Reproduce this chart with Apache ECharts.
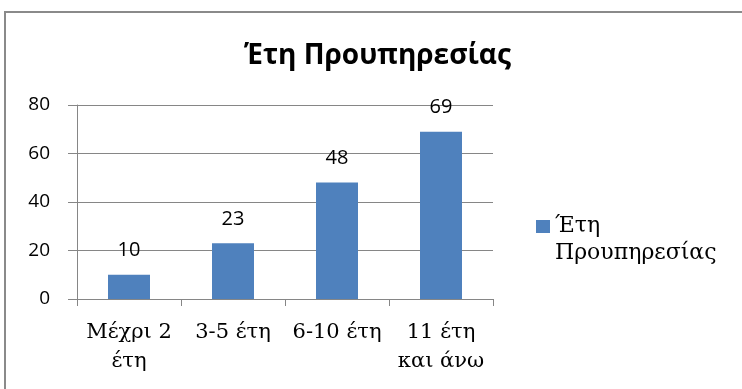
<!DOCTYPE html>
<html>
<head>
<meta charset="utf-8">
<script src="https://cdn.jsdelivr.net/npm/echarts@6/dist/echarts.min.js"></script>
<style>
html, body { margin: 0; padding: 0; background: #fff; }
#chart { width: 742px; height: 389px; }
</style>
</head>
<body>
<div id="chart"></div>
<script>
// Years of service, grouped
const categories = ['Μέχρι 2\nέτη', '3-5 έτη', '6-10 έτη', '11 έτη\nκαι άνω'];
const values = [10, 23, 48, 69];
const seriesName = 'Έτη Προυπηρεσίας';
const chartTitle = 'Έτη Προυπηρεσίας';
// leading blank line keeps the legend marker level with the first word
const legendLabel = ' \nΈτη\nΠρουπηρεσίας';
const yTicks = { min: 0, max: 80, interval: 20 };

const chart = echarts.init(document.getElementById('chart'));
const serif = '"DejaVu Serif", "Liberation Serif", serif';
const sans = '"Open Sans", "DejaVu Sans", sans-serif';

chart.setOption({
  animation: false,
  backgroundColor: '#fff',
  graphic: [{
    type: 'rect',
    shape: { x: 5, y: 12, width: 760, height: 400 },
    style: { fill: 'none', stroke: '#8a8a8a', lineWidth: 2 },
    silent: true
  }],
  title: {
    text: chartTitle,
    left: 239,
    top: 37,
    textStyle: { fontFamily: sans, fontWeight: 'bold', fontSize: 28, color: '#000' }
  },
  legend: {
    data: [seriesName],
    left: 536,
    top: 186,
    padding: 0,
    icon: 'rect',
    itemWidth: 14,
    itemHeight: 13,
    formatter: () => legendLabel,
    textStyle: {
      fontFamily: serif, fontSize: 22, color: '#000', lineHeight: 27
    }
  },
  grid: { left: 77, right: 249, top: 105, bottom: 90 },
  xAxis: {
    type: 'category',
    data: categories,
    axisLine: { lineStyle: { color: '#868686', width: 1 } },
    axisTick: { show: true, length: 7, lineStyle: { color: '#868686' } },
    axisLabel: { fontFamily: serif, fontSize: 21, color: '#000', lineHeight: 29, margin: 19, interval: 0 }
  },
  yAxis: {
    type: 'value',
    min: yTicks.min,
    max: yTicks.max,
    interval: yTicks.interval,
    axisLine: { show: true, lineStyle: { color: '#868686', width: 1 } },
    axisTick: { show: true, length: 9, lineStyle: { color: '#868686' } },
    axisLabel: { fontFamily: sans, fontSize: 19, color: '#000', margin: 27 },
    splitLine: { lineStyle: { color: '#868686', width: 1 } }
  },
  series: [{
    name: seriesName,
    type: 'bar',
    data: values,
    barWidth: 42,
    itemStyle: { color: '#4F81BD' },
    label: {
      show: true,
      position: 'top',
      distance: 14,
      fontFamily: sans,
      fontSize: 20,
      color: '#000'
    }
  }]
});
</script>
</body>
</html>
